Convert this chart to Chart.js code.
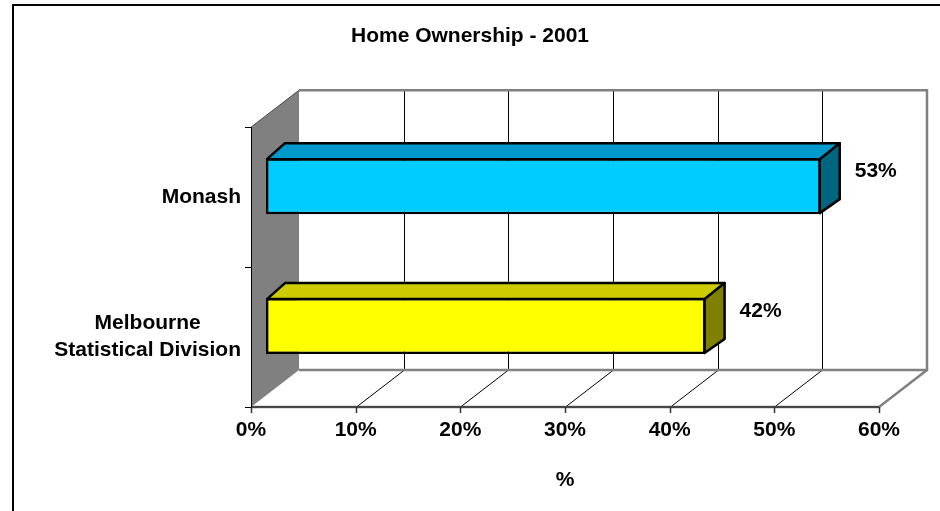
<!DOCTYPE html>
<html>
<head>
<meta charset="utf-8">
<title>Home Ownership - 2001</title>
<script src="https://cdn.jsdelivr.net/npm/chart.js@4.4.1/dist/chart.umd.min.js"></script>
<style>
    html, body { margin: 0; padding: 0; background: #fff; }
    #wrap { width: 940px; height: 511px; position: relative; }
</style>
</head>
<body>
<div id="wrap"><canvas id="homeChart"></canvas></div>
<script>
// data
var categories = ['Monash', ['Melbourne', 'Statistical Division']];
var ownership = [53, 42];
var xMin = 0, xMax = 60, xStep = 10;

// looks
var frontColors = ['#00CCFF', '#FFFF00'];
var topColors = ['#0099CC', '#CCCC00'];
var sideColors = ['#006680', '#808000'];
var depth = { dx: 48, dy: -37 };     // walls / floor
var barOff = { dx: 15, dy: -11 };    // where the bar front face sits
var barDepth = { dx: 19, dy: -15 };  // thickness of the bars

Chart.defaults.font.family = '"Liberation Sans", Arial, sans-serif';
Chart.defaults.font.weight = 'bold';
Chart.defaults.font.size = 21;
Chart.defaults.color = '#000';

function poly(ctx, pts) {
    ctx.beginPath();
    ctx.moveTo(pts[0][0], pts[0][1]);
    for (var i = 1; i < pts.length; i++) ctx.lineTo(pts[i][0], pts[i][1]);
    ctx.closePath();
}

var box3d = {
    id: 'box3d',
    beforeDraw: function(chart) {
        var ctx = chart.ctx;
        ctx.save();
        ctx.strokeStyle = '#000';
        ctx.lineWidth = 2;
        ctx.strokeRect(13, 5, 1000, 1000);
        ctx.restore();
    },
    beforeDatasetsDraw: function(chart) {
        var ctx = chart.ctx, a = chart.chartArea, xs = chart.scales.x;
        var L = a.left, R = a.right, T = a.top, B = a.bottom;
        var dx = depth.dx, dy = depth.dy;
        ctx.save();

        // left wall
        ctx.fillStyle = '#808080';
        poly(ctx, [[L, T], [L + dx, T + dy], [L + dx, B + dy], [L, B]]);
        ctx.fill();
        ctx.strokeStyle = '#444';
        ctx.lineWidth = 1;
        ctx.beginPath();
        ctx.moveTo(L, T); ctx.lineTo(L + dx, T + dy);
        ctx.stroke();

        // gridlines on back wall + floor
        ctx.strokeStyle = '#000';
        ctx.lineWidth = 1;
        for (var v = xMin + xStep; v < xMax; v += xStep) {
            var px = Math.round(xs.getPixelForValue(v)) + 0.5;
            ctx.beginPath();
            ctx.moveTo(px + dx, T + dy);
            ctx.lineTo(px + dx, B + dy);
            ctx.moveTo(px, B);
            ctx.lineTo(px + dx, B + dy);
            ctx.stroke();
        }

        // back wall and floor outline
        ctx.strokeStyle = '#808080';
        ctx.lineWidth = 2.5;
        ctx.beginPath();
        ctx.moveTo(L + dx, T + dy);
        ctx.lineTo(R + dx, T + dy);
        ctx.lineTo(R + dx, B + dy);
        ctx.lineTo(L + dx, B + dy);
        ctx.moveTo(R + dx, B + dy);
        ctx.lineTo(R, B);
        ctx.lineTo(L, B);
        ctx.stroke();

        // front axis
        ctx.strokeStyle = '#333';
        ctx.lineWidth = 1.5;
        ctx.beginPath();
        ctx.moveTo(L, B); ctx.lineTo(R, B);
        for (var t = xMin; t <= xMax; t += xStep) {
            var tx = Math.round(xs.getPixelForValue(t)) + 0.5;
            ctx.moveTo(tx, B); ctx.lineTo(tx, B + 6);
        }
        ctx.stroke();

        // left axis
        ctx.strokeStyle = '#000';
        ctx.lineWidth = 1;
        ctx.beginPath();
        ctx.moveTo(L + 0.5, T); ctx.lineTo(L + 0.5, B);
        [T, (T + B) / 2, B].forEach(function(y) {
            ctx.moveTo(L - 6, Math.round(y) + 0.5);
            ctx.lineTo(L, Math.round(y) + 0.5);
        });
        ctx.stroke();
        ctx.restore();
    },
    beforeDatasetDraw: function(chart) {
        chart.ctx.save();
        chart.ctx.translate(barOff.dx, barOff.dy);
    },
    afterDatasetDraw: function(chart) {
        chart.ctx.restore();
    },
    afterDatasetsDraw: function(chart) {
        var ctx = chart.ctx, a = chart.chartArea, ys = chart.scales.y;
        var meta = chart.getDatasetMeta(0);
        ctx.save();
        ctx.lineWidth = 2.5;
        ctx.strokeStyle = '#000';
        ctx.lineJoin = 'round';
        meta.data.forEach(function(bar, i) {
            var p = bar.getProps(['x', 'y', 'base', 'height'], true);
            var x0 = p.base + barOff.dx, x1 = p.x + barOff.dx;
            var y0 = p.y - p.height / 2 + barOff.dy, y1 = p.y + p.height / 2 + barOff.dy;
            var ddx = barDepth.dx, ddy = barDepth.dy;

            // top face
            ctx.fillStyle = topColors[i];
            poly(ctx, [[x0 + 1, y0 + 1], [x1, y0 + 1], [x1 + ddx, y0 + ddy], [x0 + ddx, y0 + ddy]]);
            ctx.fill(); ctx.stroke();
            // side face
            ctx.fillStyle = sideColors[i];
            poly(ctx, [[x1 - 1, y0 + 1], [x1 + ddx, y0 + ddy], [x1 + ddx, y1 + ddy], [x1 - 1, y1 - 1]]);
            ctx.fill(); ctx.stroke();

            // value label
            ctx.fillStyle = '#000';
            ctx.font = 'bold 21px "Liberation Sans", Arial, sans-serif';
            ctx.textAlign = 'left';
            ctx.textBaseline = 'middle';
            ctx.fillText(ownership[i] + '%', x1 + ddx + 15, p.y + barOff.dy + ddy);
        });

        // category labels: block right aligned, lines centred in the block
        ctx.fillStyle = '#000';
        ctx.font = 'bold 21px "Liberation Sans", Arial, sans-serif';
        ctx.textAlign = 'center';
        ctx.textBaseline = 'middle';
        categories.forEach(function(cat, i) {
            var lines = Array.isArray(cat) ? cat : [cat];
            var w = 0;
            lines.forEach(function(s) { w = Math.max(w, ctx.measureText(s).width); });
            var cx = a.left - 10 - w / 2;
            var cy = ys.getPixelForValue(i);
            var lh = 27;
            lines.forEach(function(s, k) {
                ctx.fillText(s, cx, cy - (lines.length - 1) * lh / 2 + k * lh);
            });
        });
        ctx.restore();
    }
};

new Chart(document.getElementById('homeChart'), {
    type: 'bar',
    data: {
        labels: categories,
        datasets: [{
            data: ownership,
            backgroundColor: frontColors,
            borderColor: '#000',
            borderWidth: 2.5,
            borderSkipped: false,
            barPercentage: 0.4,
            categoryPercentage: 1
        }]
    },
    options: {
        indexAxis: 'y',
        responsive: true,
        maintainAspectRatio: false,
        animation: false,
        layout: { padding: { left: 61, right: 61, top: 0, bottom: 0 } },
        plugins: {
            legend: { display: false },
            tooltip: { enabled: false },
            title: {
                display: true,
                text: 'Home Ownership - 2001',
                color: '#000',
                font: { size: 21, weight: 'bold' },
                padding: { top: 24, bottom: 78 }
            }
        },
        scales: {
            x: {
                min: xMin,
                max: xMax,
                ticks: {
                    stepSize: xStep,
                    padding: 11,
                    maxRotation: 0,
                    autoSkip: false,
                    callback: function(v) { return v + '%'; }
                },
                grid: { display: false, drawTicks: false },
                border: { display: false },
                title: { display: true, text: '%', padding: { top: 0, bottom: 18 } },
                afterFit: function(s) { s.height = 104; }
            },
            y: {
                ticks: { display: false },
                grid: { display: false, drawTicks: false },
                border: { display: false },
                afterFit: function(s) { s.width = 190; }
            }
        }
    },
    plugins: [box3d]
});
</script>
</body>
</html>
